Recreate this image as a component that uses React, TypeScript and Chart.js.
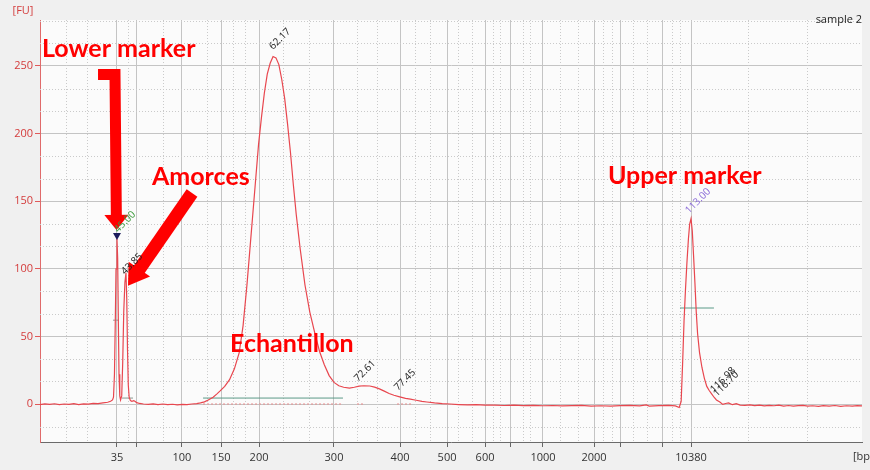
import React, { useEffect, useRef } from 'react';
import { Chart, registerables } from 'chart.js';

Chart.register(...registerables);

// ---- Electropherogram trace (migration time [s] vs fluorescence [FU]) ----
const traceTime = [
  40.0, 40.5, 41.0, 41.5, 42.0, 42.5, 43.0, 43.5, 44.0, 44.5, 45.0, 45.5, 46.0, 46.5, 47.0, 47.3, 47.5,
  47.6, 47.7, 47.78, 47.86, 47.96, 48.03, 48.1, 48.17, 48.25, 48.33, 48.45, 48.55, 48.66, 48.78, 48.89,
  48.97, 49.05, 49.13, 49.22, 49.35, 49.5, 49.7, 49.85, 50.0, 50.3, 50.7, 51.2, 51.7, 52.2, 52.7, 53.2,
  53.7, 54.2, 54.7, 55.2, 55.7, 56.2, 56.6, 57.0, 57.4, 57.9, 58.3, 58.6, 59.1, 59.6, 60.1, 60.6, 61.0,
  61.4, 61.7, 62.0, 62.3, 62.6, 62.9, 63.2, 63.5, 63.8, 64.1, 64.4, 64.7, 65.0, 65.3, 65.6, 65.9, 66.2,
  66.5, 66.9, 67.4, 67.9, 68.4, 68.9, 69.4, 69.9, 70.4, 70.9, 71.4, 72.0, 72.5, 73.0, 73.5, 74.1, 74.6,
  75.1, 75.6, 76.1, 76.6, 77.2, 77.8, 78.3, 78.9, 79.5, 80.0, 80.8, 81.6, 82.4, 83.3, 84.2, 85.1, 86.0,
  87.0, 88.0, 89.0, 90.0, 91.0, 92.0, 93.0, 94.0, 95.0, 96.0, 97.0, 98.0, 99.0, 100.0, 101.0, 102.0,
  102.7, 103.0, 104.0, 105.0, 105.7, 106.1, 106.3, 106.45, 106.6, 106.75, 106.9, 107.05, 107.18, 107.32,
  107.45, 107.58, 107.72, 107.86, 108.0, 108.2, 108.45, 108.7, 108.95, 109.2, 109.45, 109.7, 109.95,
  110.3, 110.6, 110.9, 111.2, 111.6, 112.0, 112.4, 112.9, 113.4, 113.9, 114.4, 114.9, 115.4, 115.9,
  116.4, 116.9, 117.4, 117.9, 118.4, 118.9, 119.4, 119.9, 120.5, 121.0, 121.6, 122.2, 122.8, 123.4,
  124.0, 124.5, 125.0,
];
const traceFU = [
  -0.4, 0.1, -0.3, 0.2, -0.5, 0.0, -0.2, 0.3, -0.4, 0.1, -0.1, 0.4, 0.3, 0.8, 1.3, 2.0, 3.0,
  5, 22, 58, 100, 122, 108, 62, 22, 6, 3, 6, 30, 68, 90, 97,
  78, 40, 14, 5, 2.5, 2.0, 2.4, 1.9, 1.0, 0.4, 0.0, -0.3, 0.1, -0.4, 0.0, -0.5,
  -0.2, -0.6, -0.3, -0.4, 0.0, 0.3, 0.8, 1.6, 3.0, 5.0, 7.5, 9.5, 13, 18, 26, 38, 58,
  88, 114, 140, 166, 192, 212, 230, 244, 252, 257, 256, 251, 240, 226, 207, 186, 162,
  140, 115, 88, 68, 53, 39, 29, 21, 16, 13.5, 12.4, 11.8, 12.4, 13.2, 13.5, 13.3, 12.5,
  11.2, 9.5, 7.8, 6.5, 5.3, 4.2, 3.6, 2.8, 2.0, 1.5, 0.8, 0.3, 0.0, -0.4, -0.7, -0.5, -0.9,
  -0.8, -1.1, -0.9, -1.2, -1.0, -1.3, -1.1, -1.4, -1.2, -1.0, -1.5, -1.3, -1.6, -1.2, -1.0, -1.4,
  -0.7, -1.5, -1.2, -1.0, -1.4, -2.6, 2, 30, 62, 85, 105, 122, 133, 137,
  128, 110, 90, 68, 52, 38, 27, 19, 13, 10, 7.5, 5.0, 3.0,
  1.5, -0.3, 0.4, 0.8, -0.5, 0.2, -0.8, -1.0, -0.6, -1.2, -0.9, -1.4, -1.0, -1.3,
  -0.8, -1.5, -1.1, -1.6, -1.2, -1.0, -1.5, -1.3, -1.8, -1.2, -1.5, -1.1, -1.7, -1.3,
  -1.5, -1.2, -1.4,
];

// ---- Axes ----
const xMinTime = 40;
const xMaxTime = 125;
const xTickTimes = [47.96, 50.03, 54.68, 58.72, 62.65, 70.4, 77.23, 82.09, 86.02, 88.7, 92.01, 97.29, 99.98, 104.32, 107.32];
const xTickLabels = ['35', '', '100', '150', '200', '300', '400', '500', '600', '', '1000', '2000', '', '', '10380'];
const xMinorTimes = [42.69, 44.86, 49.1, 52.72, 57.27, 59.96, 61.2, 65.13, 67.82, 72.78, 74.85, 78.78, 80.33, 83.22, 84.67, 86.84, 87.57, 89.94, 90.67, 93.77, 95.63, 98.22, 99.15, 101.32, 102.77, 105.35, 106.18, 113.21, 119.31];
const yMinFU = -28.1;
const yMaxFU = 284;
const yTickValues = [0, 50, 100, 150, 200, 250];
const yMinorValues = [-16.67, 16.67, 33.33, 66.67, 83.33, 116.67, 133.33, 166.67, 183.33, 216.67, 233.33, 266.67, 283.33];

// ---- Peak labels ----
const peakLabelTexts = ['62.17', '45.00', '43.85', '72.61', '77.45', '113.00', '116.98', '116.70'];
const peakLabelTimes = [64.09, 48.07, 48.79, 72.88, 77.02, 107.11, 109.69, 110.0];
const peakLabelValues = [261.8, 126.5, 95.4, 16.3, 9.6, 140.5, 8.1, 5.2];
const peakLabelColors = ['#222222', '#3c9a3c', '#222222', '#222222', '#222222', '#8a6ad8', '#222222', '#222222'];
const lowerMarkerTime = 47.96;
const lowerMarkerValue = 122;

// ---- Peak / region bars ----
const smearBarTimes = [56.86, 71.33];
const smearBarValue = 4.4;
const upperBarTimes = [106.18, 109.69];
const upperBarValue = 71;
const lowerBarTimes = [47.55, 48.17];
const lowerBarValue = 62;
const primerBarTimes = [48.48, 49.62];
const primerBarValue = 4.4;
const baselineSegStart = [56.86, 72.78, 76.92];
const baselineSegEnd = [71.33, 73.4, 78.47];

// ---- Big annotations ----
const noteTexts = ['Lower marker', 'Amorces', 'Echantillon', 'Upper marker'];
const noteTimes = [40.21, 51.58, 59.65, 98.73];
const noteValues = [256.7, 162.0, 38.5, 162.7];
const lowerArrowTimes = [46.0, 47.755, 47.91];
const lowerArrowValues = [243.7, 243.7, 128.7];
const primerArrowTimes = [55.72, 49.1];
const primerArrowValues = [156.1, 87.5];

const RED = '#ff0000';

function drawArrow(ctx: CanvasRenderingContext2D, pts: { x: number; y: number }[], shaftW: number, headW: number, headL: number) {
  const n = pts.length;
  const tip = pts[n - 1];
  const prev = pts[n - 2];
  const dx = tip.x - prev.x;
  const dy = tip.y - prev.y;
  const len = Math.hypot(dx, dy);
  const ux = dx / len;
  const uy = dy / len;
  const bx = tip.x - ux * headL;
  const by = tip.y - uy * headL;
  ctx.save();
  ctx.strokeStyle = RED;
  ctx.fillStyle = RED;
  ctx.lineWidth = shaftW;
  ctx.lineCap = 'butt';
  ctx.lineJoin = 'miter';
  ctx.beginPath();
  ctx.moveTo(pts[0].x, pts[0].y);
  for (let i = 1; i < n - 1; i++) ctx.lineTo(pts[i].x, pts[i].y);
  ctx.lineTo(bx + ux, by + uy);
  ctx.stroke();
  const nx = -uy;
  const ny = ux;
  ctx.beginPath();
  ctx.moveTo(tip.x, tip.y);
  ctx.lineTo(bx + nx * headW / 2, by + ny * headW / 2);
  ctx.lineTo(bx - nx * headW / 2, by - ny * headW / 2);
  ctx.closePath();
  ctx.fill();
  ctx.restore();
}

const decorPlugin = {
  id: 'decor',
  beforeDraw(chart: any) {
    const { ctx, chartArea: a, width, height } = chart;
    ctx.save();
    ctx.fillStyle = '#f0f0f0';
    ctx.fillRect(0, 0, width, height);
    ctx.fillStyle = '#fbfbfb';
    ctx.fillRect(a.left, a.top, a.right - a.left, a.bottom - a.top);
    ctx.restore();
  },
  beforeDatasetsDraw(chart: any) {
    const { ctx, chartArea: a } = chart;
    const xs = chart.scales.x;
    const ys = chart.scales.y;
    ctx.save();
    ctx.strokeStyle = '#cacaca';
    ctx.lineWidth = 1;
    ctx.setLineDash([1, 2]);
    xMinorTimes.forEach((t) => {
      const px = Math.round(xs.getPixelForValue(t)) + 0.5;
      ctx.beginPath();
      ctx.moveTo(px, a.top);
      ctx.lineTo(px, a.bottom);
      ctx.stroke();
    });
    yMinorValues.forEach((v) => {
      const py = Math.round(ys.getPixelForValue(v)) + 0.5;
      ctx.beginPath();
      ctx.moveTo(a.left, py);
      ctx.lineTo(a.right, py);
      ctx.stroke();
    });
    ctx.restore();
  },
  afterDatasetsDraw(chart: any) {
    const { ctx, chartArea: a } = chart;
    const xs = chart.scales.x;
    const ys = chart.scales.y;
    const P = (t: number, v: number) => ({ x: xs.getPixelForValue(t), y: ys.getPixelForValue(v) });

    // arrows
    drawArrow(ctx, lowerArrowTimes.map((t, i) => P(t, lowerArrowValues[i])), 11, 24, 15);
    drawArrow(ctx, primerArrowTimes.map((t, i) => P(t, primerArrowValues[i])), 13, 26, 20);

    // lower marker triangle
    const m = P(lowerMarkerTime, lowerMarkerValue);
    ctx.save();
    ctx.fillStyle = '#1c1c5c';
    ctx.beginPath();
    ctx.moveTo(m.x, m.y + 1);
    ctx.lineTo(m.x - 4, m.y - 6);
    ctx.lineTo(m.x + 4, m.y - 6);
    ctx.closePath();
    ctx.fill();
    ctx.restore();

    // peak labels
    peakLabelTexts.forEach((txt, i) => {
      const p = P(peakLabelTimes[i], peakLabelValues[i]);
      ctx.save();
      ctx.translate(p.x, p.y);
      ctx.rotate(-Math.PI / 4);
      ctx.font = '10px "Open Sans"';
      ctx.fillStyle = peakLabelColors[i];
      ctx.textAlign = 'left';
      ctx.textBaseline = 'alphabetic';
      ctx.fillText(txt, 0, 0);
      ctx.restore();
    });

    // big annotations
    ctx.save();
    ctx.font = 'bold 25px Lato';
    ctx.fillStyle = RED;
    ctx.textAlign = 'left';
    ctx.textBaseline = 'alphabetic';
    noteTexts.forEach((txt, i) => {
      const p = P(noteTimes[i], noteValues[i]);
      ctx.fillText(txt, p.x, p.y);
    });
    ctx.restore();

    // unit labels & sample name
    ctx.save();
    ctx.font = '11px "Open Sans"';
    ctx.fillStyle = '#d43c3c';
    ctx.textAlign = 'center';
    ctx.textBaseline = 'middle';
    ctx.fillText('[FU]', a.left - 17, a.top - 9);
    ctx.fillStyle = '#222222';
    ctx.textAlign = 'right';
    ctx.fillText('sample 2', a.right, a.top);
    ctx.fillStyle = '#333333';
    ctx.textAlign = 'left';
    ctx.fillText('[bp]', a.right - 9, a.bottom + 15);
    ctx.restore();
  },
};

const seg = (times: number[], value: number) => times.map((t) => ({ x: t, y: value }));

export default function App() {
  const ref = useRef<HTMLCanvasElement>(null);
  useEffect(() => {
    const datasets: any[] = [
      {
        label: 'trace',
        data: traceTime.map((t, i) => ({ x: t, y: traceFU[i] })),
        borderColor: '#e8464e',
        borderWidth: 1.2,
        pointRadius: 0,
        tension: 0,
      },
      { data: seg(smearBarTimes, smearBarValue), borderColor: '#5b9a88', borderWidth: 1, pointRadius: 0 },
      { data: seg(upperBarTimes, upperBarValue), borderColor: '#5b9a88', borderWidth: 1, pointRadius: 0 },
      { data: seg(lowerBarTimes, lowerBarValue), borderColor: '#9a9a9a', borderWidth: 1, pointRadius: 0 },
      { data: seg(primerBarTimes, primerBarValue), borderColor: '#8a9a90', borderWidth: 1, pointRadius: 0 },
      ...baselineSegStart.map((s, i) => ({
        data: [{ x: s, y: 0 }, { x: baselineSegEnd[i], y: 0 }],
        borderColor: '#e88a8a',
        borderWidth: 1,
        borderDash: [2, 2],
        pointRadius: 0,
      })),
    ];
    const chart = new Chart(ref.current as HTMLCanvasElement, {
      type: 'line',
      data: { datasets },
      options: {
        responsive: false,
        animation: false,
        devicePixelRatio: 1,
        layout: { padding: { left: 8, top: 20, right: 8, bottom: 0 } },
        plugins: { legend: { display: false }, tooltip: { enabled: false }, title: { display: false } },
        scales: {
          x: {
            type: 'linear',
            min: xMinTime,
            max: xMaxTime,
            afterBuildTicks: (s: any) => {
              s.ticks = xTickTimes.map((v) => ({ value: v }));
            },
            afterFit: (s: any) => {
              s.height = 28;
            },
            ticks: {
              autoSkip: false,
              maxRotation: 0,
              minRotation: 0,
              padding: 4,
              color: '#333333',
              font: { family: 'Open Sans', size: 11 },
              callback: (_v: any, idx: number) => xTickLabels[idx],
            },
            grid: { color: '#c4c4c4', lineWidth: 1, tickColor: '#666666', tickLength: 5 },
            border: { color: '#6a6a6a', width: 1 },
          },
          y: {
            type: 'linear',
            min: yMinFU,
            max: yMaxFU,
            afterBuildTicks: (s: any) => {
              s.ticks = yTickValues.map((v) => ({ value: v }));
            },
            afterFit: (s: any) => {
              s.width = 32;
            },
            ticks: {
              padding: 2,
              color: '#d43c3c',
              font: { family: 'Open Sans', size: 11 },
              callback: (v: any) => String(v),
            },
            grid: { color: '#c4c4c4', lineWidth: 1, tickColor: '#e05a5a', tickLength: 5 },
            border: { color: '#e06a6a', width: 1 },
          },
        },
      },
      plugins: [decorPlugin],
    } as any);
    return () => chart.destroy();
  }, []);
  return (
    <div style={{ position: 'absolute', left: 0, top: 0, width: 870, height: 470 }}>
      <canvas ref={ref} width={870} height={470} style={{ display: 'block' }} />
    </div>
  );
}
